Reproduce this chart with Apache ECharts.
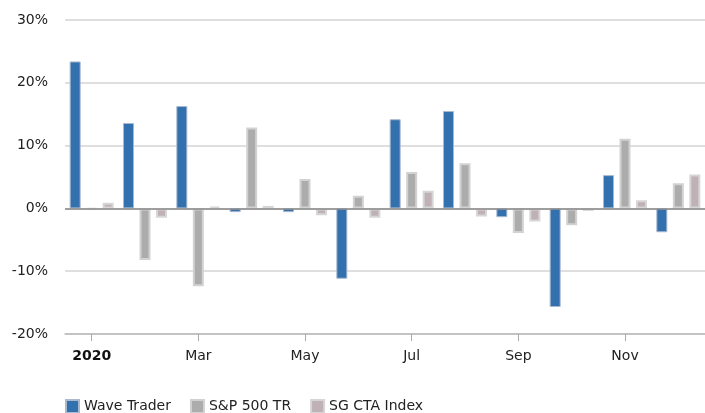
<!DOCTYPE html>
<html>
<head>
<meta charset="utf-8">
<script src="https://cdn.jsdelivr.net/npm/echarts@6/dist/echarts.min.js"></script>
<style>
  html, body { margin: 0; padding: 0; background: #fff; }
  #chart { width: 705px; height: 413px; }
</style>
</head>
<body>
<div id="chart"></div>
<script>
var months = ['2020', 'Feb', 'Mar', 'Apr', 'May', 'Jun', 'Jul', 'Aug', 'Sep', 'Oct', 'Nov', 'Dec'];
var shownLabels = ['2020', '', 'Mar', '', 'May', '', 'Jul', '', 'Sep', '', 'Nov', ''];
var waveTrader = [23.4, 13.6, 16.3, -0.6, -0.6, -11.2, 14.2, 15.5, -1.4, -15.7, 5.3, -3.8];
var sp500 = [-0.1, -8.2, -12.4, 12.9, 4.7, 2.0, 5.8, 7.2, -3.9, -2.7, 11.1, 4.0];
var sgCta = [0.9, -1.5, 0.3, 0.4, -1.1, -1.5, 2.8, -1.3, -2.1, -0.4, 1.3, 5.4];

var chart = echarts.init(document.getElementById('chart'));
var font = 'DejaVu Sans, Verdana, sans-serif';

chart.setOption({
  animation: false,
  textStyle: { fontFamily: font },
  grid: { left: 65, top: 20, width: 648, height: 314 },
  legend: {
    left: 60,
    top: 394,
    padding: 5,
    itemWidth: 13,
    itemHeight: 13,
    itemGap: 19,
    icon: 'rect',
    textStyle: { fontSize: 14, color: '#222', fontFamily: font },
    data: ['Wave Trader', 'S&P 500 TR', 'SG CTA Index']
  },
  xAxis: {
    type: 'category',
    data: months,
    axisLine: { onZero: false, lineStyle: { color: '#bbb', width: 1.5 } },
    axisTick: {
      show: true,
      inside: false,
      alignWithLabel: true,
      length: 7,
      lineStyle: { color: '#aaa', width: 1 },
      interval: function (i) { return i % 2 === 0; }
    },
    axisLabel: {
      interval: 0,
      margin: 15,
      fontSize: 14,
      color: '#222',
      formatter: function (v, i) {
        var s = shownLabels[i];
        return i === 0 ? '{b|' + s + '}' : s;
      },
      rich: { b: { fontWeight: 'bold', fontSize: 14, color: '#111', fontFamily: font } }
    }
  },
  yAxis: {
    type: 'value',
    min: -20,
    max: 30,
    interval: 10,
    axisLine: { show: false },
    axisTick: { show: false },
    axisLabel: {
      margin: 17,
      fontSize: 14,
      color: '#222',
      formatter: '{value}%'
    },
    splitLine: { lineStyle: { color: '#d4d4d4', width: 1.5 } }
  },
  series: [{
    name: 'Wave Trader',
    type: 'bar',
    data: waveTrader,
    barWidth: 11,
    barGap: '50%',
    itemStyle: { color: '#3370ae', borderColor: '#a9b9cf', borderWidth: 1 },
    markLine: {
      silent: true,
      symbol: 'none',
      label: { show: false },
      lineStyle: { color: '#888', type: 'solid', width: 1.5 },
      data: [{ yAxis: 0 }]
    }
  }, {
    name: 'S&P 500 TR',
    type: 'bar',
    data: sp500,
    barWidth: 11,
    barGap: '50%',
    itemStyle: { color: '#acacac', borderColor: '#d2d2d2', borderWidth: 2 }
  }, {
    name: 'SG CTA Index',
    type: 'bar',
    data: sgCta,
    barWidth: 11,
    barGap: '50%',
    itemStyle: { color: '#bfb1b6', borderColor: '#d6d6d6', borderWidth: 2 }
  }]
});
</script>
</body>
</html>
